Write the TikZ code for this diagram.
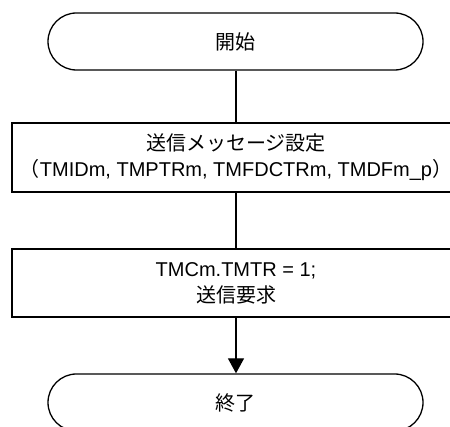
\documentclass[tikz,border=0pt]{standalone}
\usepackage{fontspec}
\setmainfont{Liberation Sans}
\newfontfamily\cjk{Noto Sans CJK JP}
\usetikzlibrary{arrows.meta}
\tikzset{
  base/.style={draw=black, line width=1.3pt, align=center, inner sep=0pt,
    font=\fontsize{20}{26}\selectfont},
  term/.style={base, rounded corners=28.5pt, minimum width=375pt, minimum height=57pt},
  procbox/.style={base, minimum width=448pt},
  conn/.style={line width=1.3pt, draw=black},
  arr/.style={conn, -{Triangle[length=15pt,width=16pt]}}
}
\begin{document}
\begin{tikzpicture}[x=1pt,y=1pt]
\useasboundingbox (0,0) rectangle (450,427);
\clip (0,0) rectangle (450,427);
\node[term] (start) at (235.5,385.5) {\cjk 開始};
\node[procbox, minimum height=69pt] (set) at (236,269.5)
  {{\cjk 送信メッセージ設定}\\{\cjk （}TMIDm, TMPTRm, TMFDCTRm, TMDFm\_p{\cjk ）}};
\node[procbox, minimum height=68pt] (req) at (236,144)
  {TMCm.TMTR = 1;\\{\cjk 送信要求}};
\node[term] (end) at (235.5,24.5) {\cjk 終了};
\draw[conn] (start.south -| set.north) -- (set.north);
\draw[conn] (set) -- (req);
\draw[arr] (req.south) -- (req.south |- end.north);
\end{tikzpicture}
\end{document}
